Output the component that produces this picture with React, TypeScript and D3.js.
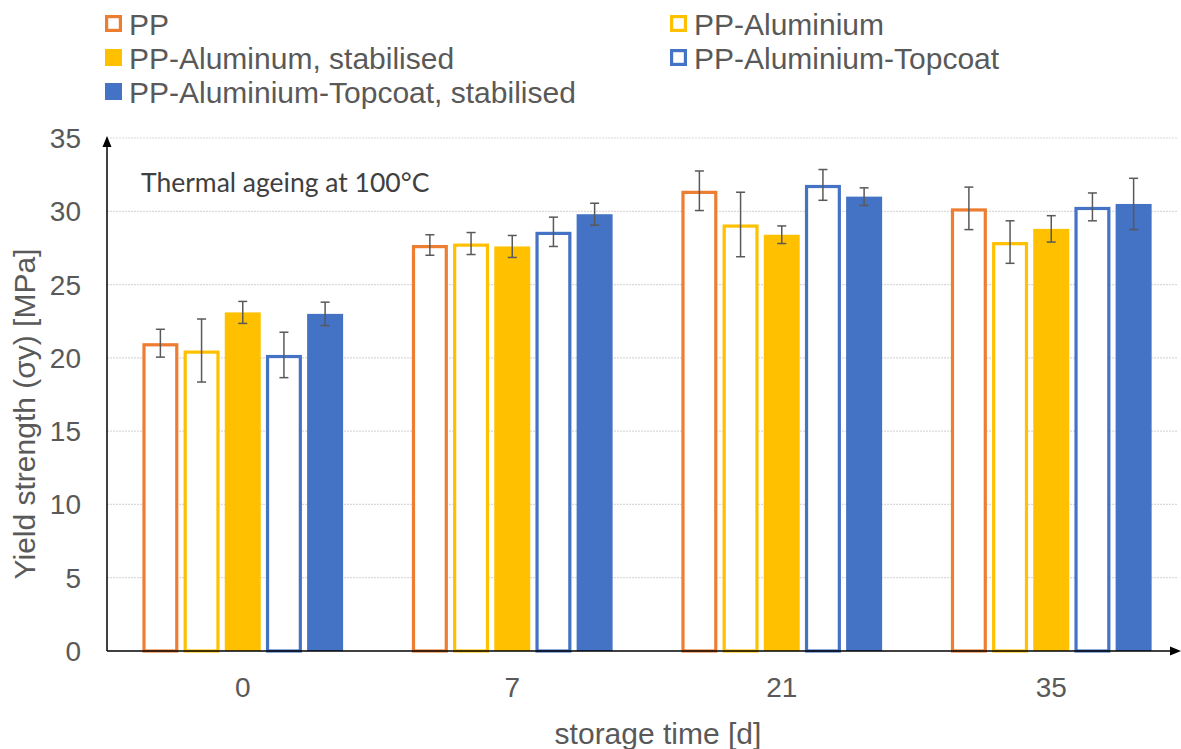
import React, { useEffect, useRef } from 'react';
import * as d3 from 'd3';

// storage time [d]
const categories = ['0', '7', '21', '35'];

const seriesNames = [
    'PP',
    'PP-Aluminium',
    'PP-Aluminum, stabilised',
    'PP-Aluminium-Topcoat',
    'PP-Aluminium-Topcoat, stabilised'
];

// yield strength [MPa], one list per series, one value per storage time
const ppValues = [21.0, 27.7, 31.4, 30.2];
const ppAluValues = [20.5, 27.8, 29.1, 27.9];
const ppAluStabValues = [23.1, 27.6, 28.4, 28.8];
const ppTopValues = [20.2, 28.6, 31.8, 30.3];
const ppTopStabValues = [23.0, 29.8, 31.0, 30.5];

// standard deviation (error bars)
const ppErrors = [0.95, 0.7, 1.35, 1.45];
const ppAluErrors = [2.15, 0.75, 2.2, 1.45];
const ppAluStabErrors = [0.75, 0.75, 0.6, 0.9];
const ppTopErrors = [1.55, 1.0, 1.05, 0.95];
const ppTopStabErrors = [0.8, 0.75, 0.6, 1.75];

const yTicks = [0, 5, 10, 15, 20, 25, 30, 35];

const colors = ['#ED7D31', '#FFC000', '#FFC000', '#4472C4', '#4472C4'];
const filled = [false, false, true, false, true];

const App = () => {
    const svgRef = useRef<SVGSVGElement>(null);

    useEffect(() => {
        const width = 1181,
              height = 749,
              margin = {top: 138, left: 107, bottom: 98, right: 0},
              textColor = '#595959',
              font = '"Liberation Sans", Arial, sans-serif';

        const values = [ppValues, ppAluValues, ppAluStabValues, ppTopValues, ppTopStabValues];
        const errors = [ppErrors, ppAluErrors, ppAluStabErrors, ppTopErrors, ppTopStabErrors];

        const svg = d3.select(svgRef.current)
            .attr('width', width)
            .attr('height', height);
        svg.selectAll('*').remove();

        const y = d3.scaleLinear()
            .domain([0, 35])
            .range([height - margin.bottom, margin.top]);

        const x0 = d3.scaleBand<string>()
            .domain(categories)
            .range([108, 1186])
            .padding(0);

        const x1 = d3.scaleBand<number>()
            .domain(d3.range(seriesNames.length))
            .range([0, x0.bandwidth()])
            .paddingInner(0.126)
            .paddingOuter(0.835);

        // gridlines
        svg.append('g')
            .selectAll('line')
            .data(yTicks.filter(t => t > 0))
            .enter()
            .append('line')
            .attr('x1', margin.left)
            .attr('x2', 1178)
            .attr('y1', d => y(d))
            .attr('y2', d => y(d))
            .attr('stroke', '#d9d9d9')
            .attr('stroke-width', 1.2)
            .attr('stroke-dasharray', '2,1');

        // y tick labels
        svg.append('g')
            .selectAll('text')
            .data(yTicks)
            .enter()
            .append('text')
            .attr('x', 81)
            .attr('y', d => y(d) + 10)
            .attr('text-anchor', 'end')
            .attr('fill', textColor)
            .style('font-family', font)
            .style('font-size', '28px')
            .text(d => d);

        // bars
        const groups = svg.append('g')
            .selectAll('g')
            .data(categories)
            .enter()
            .append('g')
            .attr('transform', d => `translate(${x0(d)},0)`);

        groups.each(function (cat, ci) {
            const g = d3.select(this);
            seriesNames.forEach((name, si) => {
                const v = values[si][ci];
                const bx = x1(si)!;
                const bw = x1.bandwidth();
                if (filled[si]) {
                    g.append('rect')
                        .attr('x', bx)
                        .attr('y', y(v))
                        .attr('width', bw)
                        .attr('height', y(0) - y(v))
                        .attr('fill', colors[si]);
                } else {
                    g.append('rect')
                        .attr('x', bx + 1.6)
                        .attr('y', y(v) + 1.6)
                        .attr('width', bw - 3.2)
                        .attr('height', y(0) - y(v) - 1.6)
                        .attr('fill', '#fff')
                        .attr('stroke', colors[si])
                        .attr('stroke-width', 3.2);
                }
            });

            // error bars
            seriesNames.forEach((name, si) => {
                const v = values[si][ci];
                const e = errors[si][ci];
                const cx = x1(si)! + x1.bandwidth() / 2;
                const eg = g.append('g')
                    .attr('stroke', '#595959')
                    .attr('stroke-width', 1.5);
                eg.append('line')
                    .attr('x1', cx).attr('x2', cx)
                    .attr('y1', y(v + e)).attr('y2', y(v - e));
                [v + e, v - e].forEach(t => {
                    eg.append('line')
                        .attr('x1', cx - 4.5).attr('x2', cx + 4.5)
                        .attr('y1', y(t)).attr('y2', y(t));
                });
            });
        });

        // axes with arrows
        const axisGroup = svg.append('g')
            .attr('stroke', '#000')
            .attr('stroke-width', 1.5)
            .attr('fill', '#000');

        axisGroup.append('line')
            .attr('x1', margin.left).attr('x2', margin.left)
            .attr('y1', y(0)).attr('y2', y(35) + 4);
        axisGroup.append('path')
            .attr('stroke', 'none')
            .attr('d', `M${margin.left},${y(35) - 2} L${margin.left - 4.5},${y(35) + 9} L${margin.left + 4.5},${y(35) + 9} Z`);

        axisGroup.append('line')
            .attr('x1', margin.left).attr('x2', 1172)
            .attr('y1', y(0)).attr('y2', y(0));
        axisGroup.append('path')
            .attr('stroke', 'none')
            .attr('d', `M1181,${y(0)} L1170,${y(0) - 4.5} L1170,${y(0) + 4.5} Z`);

        // x tick labels
        svg.append('g')
            .selectAll('text')
            .data(categories)
            .enter()
            .append('text')
            .attr('x', d => x0(d)! + x0.bandwidth() / 2)
            .attr('y', 697)
            .attr('text-anchor', 'middle')
            .attr('fill', textColor)
            .style('font-family', font)
            .style('font-size', '28px')
            .text(d => d);

        // axis titles
        svg.append('text')
            .attr('x', 658)
            .attr('y', 744)
            .attr('text-anchor', 'middle')
            .attr('fill', textColor)
            .style('font-family', font)
            .style('font-size', '30px')
            .text('storage time [d]');

        svg.append('text')
            .attr('transform', `translate(35,414) rotate(-90)`)
            .attr('text-anchor', 'middle')
            .attr('fill', textColor)
            .style('font-family', font)
            .style('font-size', '30px')
            .text('Yield strength (σy) [MPa]');

        // annotation
        svg.append('text')
            .attr('x', 141)
            .attr('y', 192)
            .attr('fill', '#404040')
            .style('font-family', 'Lato, "Open Sans", sans-serif')
            .style('font-size', '26.5px')
            .text('Thermal ageing at 100°C');

        // legend
        const legendPos = [
            {x: 105, y: 15}, {x: 670, y: 15},
            {x: 105, y: 49}, {x: 670, y: 49},
            {x: 105, y: 83}
        ];
        const legend = svg.append('g');
        seriesNames.forEach((name, si) => {
            const p = legendPos[si];
            if (filled[si]) {
                legend.append('rect')
                    .attr('x', p.x).attr('y', p.y)
                    .attr('width', 17).attr('height', 17)
                    .attr('fill', colors[si]);
            } else {
                legend.append('rect')
                    .attr('x', p.x + 1.6).attr('y', p.y + 1.6)
                    .attr('width', 13.8).attr('height', 13.8)
                    .attr('fill', '#fff')
                    .attr('stroke', colors[si])
                    .attr('stroke-width', 3.2);
            }
            legend.append('text')
                .attr('x', p.x + 24)
                .attr('y', p.y + 20)
                .attr('fill', textColor)
                .style('font-family', font)
                .style('font-size', '30px')
                .text(name);
        });
    }, []);

    return (
        <svg ref={svgRef} style={{position: 'absolute', left: 0, top: 0, background: '#fff'}}></svg>
    );
};

export default App;
